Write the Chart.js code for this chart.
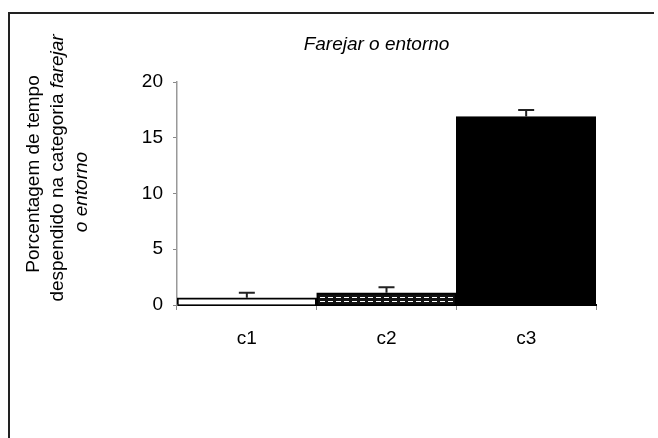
<!DOCTYPE html>
<html>
<head>
<meta charset="utf-8">
<script src="https://cdn.jsdelivr.net/npm/chart.js@4.4.0/dist/chart.umd.min.js"></script>
<style>
  body { margin: 0; background: #fff; }
  #wrap { position: relative; width: 658px; height: 438px; }
  #frame { position: absolute; left: 8px; top: 12px; width: 644px; height: 426px;
           border-top: 2px solid #222; border-left: 2px solid #222; }
  canvas { position: absolute; left: 0; top: 0; }
</style>
</head>
<body>
<div id="wrap">
  <div id="frame"></div>
  <canvas id="chart" width="658" height="438"></canvas>
</div>
<script>
// data
const categories = ['c1', 'c2', 'c3'];
const values = [0.65, 1.1, 16.9];
const errors = [0.45, 0.5, 0.6];
const yTicks = [0, 5, 10, 15, 20];
const chartTitle = 'Farejar o entorno';

const FONT = 'Arial, "Liberation Sans", sans-serif';
const SIZE = 19;

// striped fill for c2
function stripePattern(ctx) {
  const c = document.createElement('canvas');
  c.width = 8; c.height = 4;
  const p = c.getContext('2d');
  p.fillStyle = '#111';
  p.fillRect(0, 0, 8, 4);
  p.fillStyle = '#fff';
  p.fillRect(0, 1, 5, 1);
  return ctx.createPattern(c, 'repeat');
}

const ctx = document.getElementById('chart').getContext('2d');

// error bars on top of each bar
const errorBars = {
  id: 'errorBars',
  afterDatasetsDraw(chart) {
    const meta = chart.getDatasetMeta(0);
    const y = chart.scales.y;
    const c = chart.ctx;
    c.save();
    c.strokeStyle = '#222';
    c.lineWidth = 2;
    meta.data.forEach((bar, i) => {
      const top = y.getPixelForValue(values[i] + errors[i]);
      const base = y.getPixelForValue(values[i]);
      c.beginPath();
      c.moveTo(bar.x, base);
      c.lineTo(bar.x, top);
      c.moveTo(bar.x - 8, top);
      c.lineTo(bar.x + 8, top);
      c.stroke();
    });
    c.restore();
  }
};

// title and the mixed roman/italic y axis title
const texts = {
  id: 'texts',
  afterDraw(chart) {
    const c = chart.ctx;
    const area = chart.chartArea;
    c.save();
    c.fillStyle = '#000';
    c.textBaseline = 'middle';
    c.textAlign = 'center';
    c.font = 'italic ' + SIZE + 'px ' + FONT;
    c.fillText(chartTitle, (area.left + area.right) / 2 - 10, 45);

    const lines = [
      { x: 34, y: 174, parts: [['Porcentagem de tempo', '']] },
      { x: 58, y: 168, parts: [['despendido na categoria ', ''], ['farejar', 'italic ']] },
      { x: 82, y: 192, parts: [['o entorno', 'italic ']] }
    ];
    lines.forEach(line => {
      c.save();
      c.translate(line.x, line.y);
      c.rotate(-Math.PI / 2);
      let total = 0;
      line.parts.forEach(p => { c.font = p[1] + SIZE + 'px ' + FONT; total += c.measureText(p[0]).width; });
      let pos = -total / 2;
      c.textAlign = 'left';
      line.parts.forEach(p => {
        c.font = p[1] + SIZE + 'px ' + FONT;
        c.fillText(p[0], pos, 0);
        pos += c.measureText(p[0]).width;
      });
      c.restore();
    });
    c.restore();
  }
};

new Chart(ctx, {
  type: 'bar',
  data: {
    labels: categories,
    datasets: [{
      data: values,
      backgroundColor: ['#fff', stripePattern(ctx), '#000'],
      borderColor: '#000',
      borderWidth: 2,
      barPercentage: 1,
      categoryPercentage: 1
    }]
  },
  options: {
    responsive: false,
    animation: false,
    layout: { padding: { left: 0, top: 82, right: 62, bottom: 0 } },
    plugins: { legend: { display: false }, tooltip: { enabled: false } },
    scales: {
      x: {
        afterFit: s => { s.height = 133; },
        grid: { offset: true, drawOnChartArea: false, tickLength: 5, color: '#888' },
        border: { color: '#000', width: 2 },
        ticks: { color: '#000', padding: 17, font: { family: FONT, size: SIZE } }
      },
      y: {
        min: 0, max: 20,
        afterFit: s => { s.width = 177; },
        afterBuildTicks: s => { s.ticks = yTicks.map(v => ({ value: v })); },
        grid: { drawOnChartArea: false, tickLength: 4, color: '#888' },
        border: { color: '#999', width: 1.5, dash: [4, 2] },
        ticks: { color: '#000', padding: 10, font: { family: FONT, size: SIZE } }
      }
    }
  },
  plugins: [errorBars, texts]
});
</script>
</body>
</html>
